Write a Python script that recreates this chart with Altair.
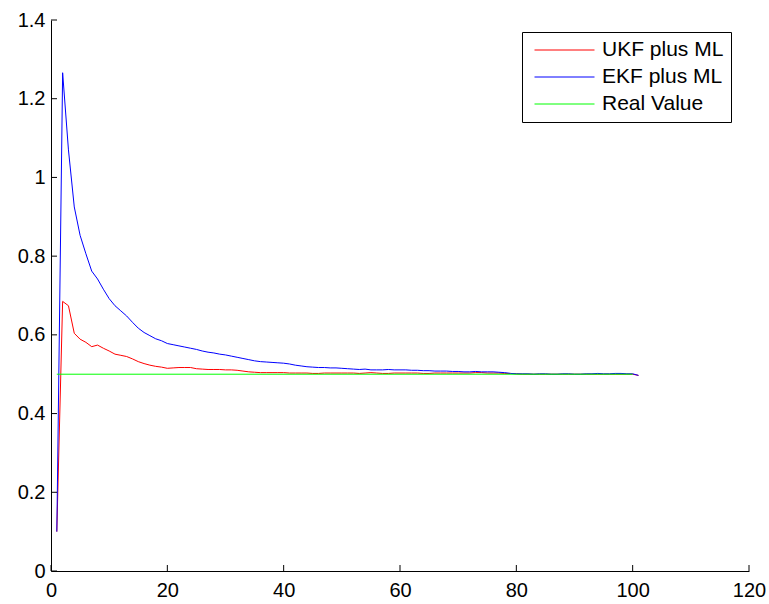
import altair as alt
import pandas as pd

# Estimates of the parameter per iteration, for the two filters
steps = list(range(1, 102))

ukf = [
    0.100, 0.685, 0.674, 0.604, 0.589, 0.581, 0.570, 0.574, 0.566, 0.559,
    0.551, 0.548, 0.545, 0.539, 0.532, 0.527, 0.523, 0.520, 0.518, 0.515,
    0.516, 0.517, 0.517, 0.517, 0.514, 0.513, 0.512, 0.512, 0.512, 0.511,
    0.511, 0.510, 0.508, 0.506, 0.505, 0.504, 0.504, 0.504, 0.504, 0.504,
    0.503, 0.503, 0.503, 0.503, 0.502, 0.502, 0.503, 0.503, 0.503, 0.503,
    0.503, 0.503, 0.502, 0.503, 0.504, 0.503, 0.502, 0.502, 0.503, 0.503,
    0.503, 0.503, 0.503, 0.502, 0.502, 0.503, 0.503, 0.503, 0.503, 0.503,
    0.503, 0.503, 0.504, 0.504, 0.503, 0.503, 0.503, 0.502, 0.502, 0.501,
    0.500, 0.500, 0.500, 0.500, 0.500, 0.500, 0.500, 0.500, 0.500, 0.500,
    0.500, 0.500, 0.500, 0.500, 0.500, 0.500, 0.500, 0.500, 0.500, 0.500,
    0.497,
]

ekf = [
    0.100, 1.266, 1.070, 0.925, 0.853, 0.806, 0.762, 0.742, 0.716, 0.692,
    0.674, 0.661, 0.648, 0.632, 0.617, 0.606, 0.598, 0.590, 0.585, 0.578,
    0.575, 0.572, 0.569, 0.566, 0.563, 0.559, 0.556, 0.554, 0.551, 0.549,
    0.546, 0.543, 0.540, 0.537, 0.534, 0.532, 0.531, 0.530, 0.529, 0.528,
    0.526, 0.523, 0.521, 0.519, 0.518, 0.517, 0.517, 0.516, 0.516, 0.515,
    0.514, 0.513, 0.512, 0.513, 0.511, 0.511, 0.511, 0.512, 0.511, 0.511,
    0.511, 0.510, 0.510, 0.509, 0.509, 0.508, 0.508, 0.508, 0.507, 0.507,
    0.506, 0.506, 0.507, 0.506, 0.506, 0.506, 0.505, 0.504, 0.502, 0.501,
    0.501, 0.501, 0.500, 0.501, 0.501, 0.500, 0.500, 0.501, 0.501, 0.500,
    0.500, 0.501, 0.501, 0.502, 0.501, 0.501, 0.502, 0.502, 0.501, 0.501,
    0.497,
]

# True parameter value
real_steps = [1, 100]
real = [0.5, 0.5]

series_names = ["UKF plus ML", "EKF plus ML", "Real Value"]
series_colors = ["#ff0000", "#0000ff", "#00ff00"]

x_ticks = [0, 20, 40, 60, 80, 100, 120]
y_ticks = [0, 0.2, 0.4, 0.6, 0.8, 1.0, 1.2, 1.4]

W, H = 698, 551
FONT = "Liberation Sans"
FS = 20

df = pd.concat([
    pd.DataFrame({"step": steps, "value": ukf, "series": series_names[0]}),
    pd.DataFrame({"step": steps, "value": ekf, "series": series_names[1]}),
    pd.DataFrame({"step": real_steps, "value": real, "series": series_names[2]}),
])

x_scale = alt.Scale(domain=[0, 120], nice=False, zero=False)
y_scale = alt.Scale(domain=[0, 1.4], nice=False)
x_axis = alt.Axis(values=x_ticks, format="d", labelPadding=9, labelFlush=False)
y_axis = alt.Axis(values=y_ticks, format="~g", labelPadding=6, labelFlush=False)

x_enc = alt.X("step:Q", scale=x_scale, axis=x_axis, title=None)
y_enc = alt.Y("value:Q", scale=y_scale, axis=y_axis, title=None)
color_enc = alt.Color(
    "series:N",
    scale=alt.Scale(domain=series_names, range=series_colors),
    title=None,
    legend=alt.Legend(
        orient="none",
        legendX=471,
        legendY=12,
        strokeColor="black",
        fillColor="white",
        padding=7,
        symbolType="stroke",
        symbolSize=3600,
        symbolStrokeWidth=1,
        symbolOffset=5,
        clipHeight=22,
        labelFont=FONT,
        labelFontSize=21,
        labelColor="black",
        labelOffset=7,
        rowPadding=5,
    ),
)

lines = [
    alt.Chart(df)
    .transform_filter(alt.datum.series == name)
    .mark_line(strokeWidth=1, clip=True)
    .encode(x=x_enc, y=y_enc, color=color_enc)
    for name in series_names
]

# Inward-pointing tick marks on both axes
x_tick_marks = (
    alt.Chart(pd.DataFrame({"t": x_ticks}))
    .mark_rule(color="black", strokeWidth=1)
    .encode(
        x=alt.X("t:Q", scale=x_scale, axis=x_axis, title=None),
        y=alt.value(H - 6),
        y2=alt.value(H),
    )
)
y_tick_marks = (
    alt.Chart(pd.DataFrame({"v": y_ticks}))
    .mark_rule(color="black", strokeWidth=1)
    .encode(
        y=alt.Y("v:Q", scale=y_scale, axis=y_axis, title=None),
        x=alt.value(0),
        x2=alt.value(6),
    )
)

chart = (
    alt.layer(*lines, x_tick_marks, y_tick_marks)
    .properties(
        width=W,
        height=H,
        autosize=alt.AutoSizeParams(type="none"),
        padding={"left": 51, "top": 20, "right": 20, "bottom": 33},
        background="white",
    )
    .configure_view(stroke=None)
    .configure_axis(
        grid=False,
        ticks=False,
        domainColor="black",
        domainWidth=1,
        labelFont=FONT,
        labelFontSize=FS,
        labelColor="black",
    )
)

chart.save("out.html", embed_options={"renderer": "svg", "actions": False})
